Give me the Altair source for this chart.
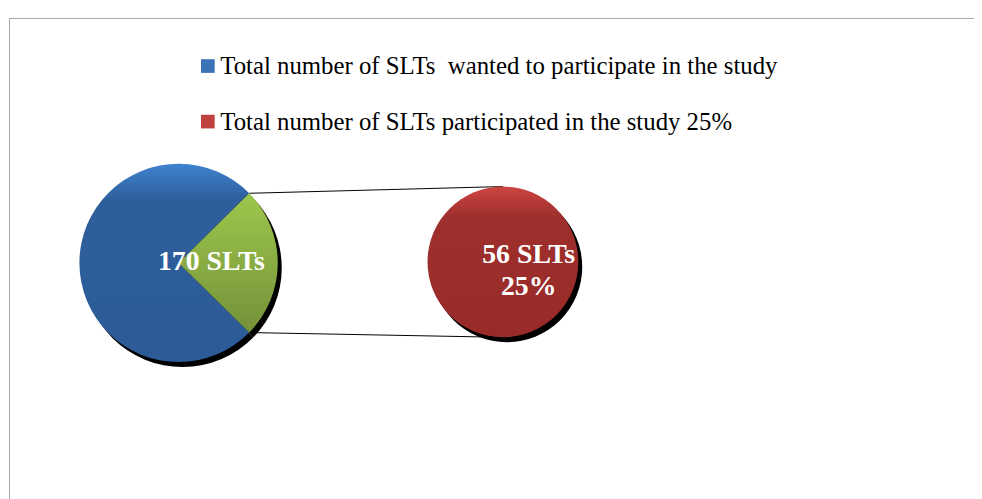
import math
import altair as alt
import pandas as pd

# ---- data ----
parts = ["wanted", "participated"]
part_values = [170, 56]
part_order = [2, 1]
sub_parts = ["sub"]
sub_values = [56]
main_label = "170 SLTs"
sub_label = ["56 SLTs", "25%"]
legend_labels = ["Total number of SLTs\u00a0 wanted to participate in the study",
                 "Total number of SLTs participated in the study 25%"]
legend_colors = ["#3a73b8", "#c0403d"]

W, H = 974, 491
# geometry (chart coordinates)
cx1, cy1, r1 = 172, 255, 100
cx2, cy2, r2 = 499, 254, 76
sdx, sdy = 4, 5

total = sum(part_values)
frac = part_values[1] / total
start = math.pi / 2 - frac * math.pi

main_df = pd.DataFrame({"part": parts, "value": part_values, "order": part_order})
sub_df = pd.DataFrame({"part": sub_parts, "value": sub_values})


def grad(stops):
    return alt.Gradient(gradient="linear", x1=0, y1=0, x2=0, y2=1,
                        stops=[alt.GradientStop(offset=o, color=c) for o, c in stops])


blue_g = grad([(0, "#3f82cf"), (0.18, "#2e5f9c"), (1, "#2c5b97")])
green_g = grad([(0, "#9dc74c"), (1, "#75913a")])
red_g = grad([(0, "#cd4542"), (0.2, "#9e2f2c"), (1, "#982b29")])

theta_main = alt.Theta("v0:Q", scale=alt.Scale(domain=[0, total], range=[start, start + 2 * math.pi]))
theta_main2 = alt.Theta2("v1:Q")

base_main = alt.Chart(main_df).transform_stack(
    stack="value", groupby=[], as_=["v0", "v1"], sort=[alt.SortField("order", "ascending")]
)

shadow_main = base_main.mark_arc(radius=r1, fill="black").encode(
    theta=theta_main, theta2=theta_main2, x=alt.value(cx1 + sdx), y=alt.value(cy1 + sdy))
blue = base_main.transform_filter(alt.datum.part == "wanted").mark_arc(radius=r1, fill=blue_g).encode(
    theta=theta_main, theta2=theta_main2, x=alt.value(cx1), y=alt.value(cy1))
green = base_main.transform_filter(alt.datum.part == "participated").mark_arc(radius=r1, fill=green_g).encode(
    theta=theta_main, theta2=theta_main2, x=alt.value(cx1), y=alt.value(cy1))

sub_total = sum(sub_values)
base_sub = alt.Chart(sub_df).transform_stack(stack="value", groupby=[], as_=["s0", "s1"])
theta_sub = alt.Theta("s0:Q", scale=alt.Scale(domain=[0, sub_total], range=[0, 2 * math.pi]))
theta_sub2 = alt.Theta2("s1:Q")
shadow_sub = base_sub.mark_arc(radius=r2, fill="black").encode(
    theta=theta_sub, theta2=theta_sub2, x=alt.value(cx2 + sdx), y=alt.value(cy2 + sdy))
red = base_sub.mark_arc(radius=r2, fill=red_g).encode(
    theta=theta_sub, theta2=theta_sub2, x=alt.value(cx2), y=alt.value(cy2))

# connector lines from green wedge edges to the secondary pie
a0 = start
a1 = start + frac * 2 * math.pi
p0 = (cx1 + r1 * math.sin(a0), cy1 - r1 * math.cos(a0))
p1 = (cx1 + r1 * math.sin(a1), cy1 - r1 * math.cos(a1))
conn_df = pd.DataFrame({"k": [0]})
line_top = alt.Chart(conn_df).mark_rule(color="black", strokeWidth=1).encode(
    x=alt.value(p0[0]), y=alt.value(p0[1]), x2=alt.value(cx2), y2=alt.value(cy2 - r2))
line_bot = alt.Chart(conn_df).mark_rule(color="black", strokeWidth=1).encode(
    x=alt.value(p1[0]), y=alt.value(p1[1]), x2=alt.value(cx2), y2=alt.value(cy2 + r2))

font = "Liberation Serif"
lab_main = alt.Chart(pd.DataFrame({"t": [main_label]})).mark_text(
    font=font, fontSize=28, fontWeight="bold", color="white", align="center", baseline="middle"
).encode(text="t:N", x=alt.value(205), y=alt.value(254))
lab_sub = alt.Chart(pd.DataFrame({"t": [0]})).mark_text(
    font=font, fontSize=28, fontWeight="bold", color="white", align="center", baseline="middle", lineHeight=32
).encode(text=alt.value(sub_label), x=alt.value(525), y=alt.value(247))

frame = alt.Chart(pd.DataFrame({"a": [0]})).mark_rect(fill="white", fillOpacity=0, stroke="#a6a6a6", strokeWidth=1).encode(
    x=alt.value(1.5), y=alt.value(8.5), x2=alt.value(W + 20), y2=alt.value(H + 40))

legend_df = pd.DataFrame({"series": legend_labels})
legend_layer = alt.Chart(legend_df).mark_square(opacity=0).encode(
    x=alt.value(-50), y=alt.value(-50),
    color=alt.Color("series:N", scale=alt.Scale(domain=legend_labels, range=legend_colors),
                    legend=alt.Legend(orient="none", legendX=189, legendY=44, title=None,
                                      symbolType="square", symbolSize=190, symbolOpacity=1,
                                      symbolStrokeWidth=0, labelFont=font, labelFontSize=25,
                                      labelColor="black", labelLimit=0, labelOffset=0,
                                      rowPadding=30)))

chart = alt.layer(frame, line_top, line_bot, shadow_main, blue, green, shadow_sub, red,
                  lab_main, lab_sub, legend_layer).resolve_scale(theta="independent").properties(
    width=W, height=H, autosize=alt.AutoSizeParams(type="none"), padding=0
).configure_view(stroke=None)

chart.save("out.html", embed_options={"renderer": "svg", "actions": False})
